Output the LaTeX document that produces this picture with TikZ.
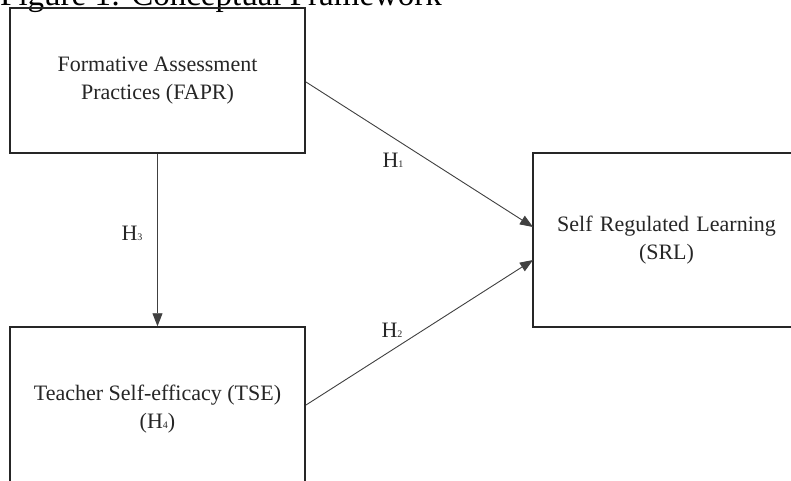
\documentclass[tikz,border=0pt]{standalone}
\usepackage{fontspec}
\setmainfont{Liberation Serif}
\usetikzlibrary{arrows.meta}
\newcommand{\hsub}[1]{H{\fontsize{10}{10}\selectfont #1}}
\begin{document}
\begin{tikzpicture}[x=1pt,y=-1pt,
  box/.style={draw=black!85,line width=1.5pt,minimum width=295pt,inner sep=0pt,align=center,
     font=\fontsize{22}{28.5}\selectfont,text=black!85},
  conn/.style={draw=black!75,line width=0.9pt,-{Triangle[length=13pt,width=10pt]}},
  lbl/.style={font=\fontsize{22}{24}\selectfont,text=black!85,inner sep=0pt}]
\useasboundingbox (0,0) rectangle (791,480);
\fill[white] (0,0) rectangle (791,480);
\node[anchor=base west,font=\fontsize{33}{36}\selectfont,inner sep=0pt] (title) at (0,5) {Figure 1: Conceptual Framework};
\node[box,minimum height=145pt] (fapr) at (157.5,80.5) {Formative Assessment\\Practices (FAPR)};
\node[box,minimum height=164pt] (tse) at (157.5,409) {Teacher Self-efficacy (TSE)\\(\hsub{4})};
\node[box,minimum width=280pt,minimum height=174pt,text width=260pt] (srl) at (673,240) {\hspace*{-13pt}Self Regulated Learning\\\hspace*{-13pt}(SRL)};
\coordinate (a1) at (306,82);
\coordinate (b1) at (533,227);
\coordinate (a2) at (306,405);
\coordinate (b2) at (533,260);
\draw[conn] (a1) -- (b1);
\draw[conn] (a2) -- (b2);
\draw[conn] (fapr.south) -- (tse.north);
\node[lbl] (h1) at (393,160) {\hsub{1}};
\node[lbl] (h2) at (392,330) {\hsub{2}};
\node[lbl] (h3) at (132,233) {\hsub{3}};
\end{tikzpicture}
\end{document}
